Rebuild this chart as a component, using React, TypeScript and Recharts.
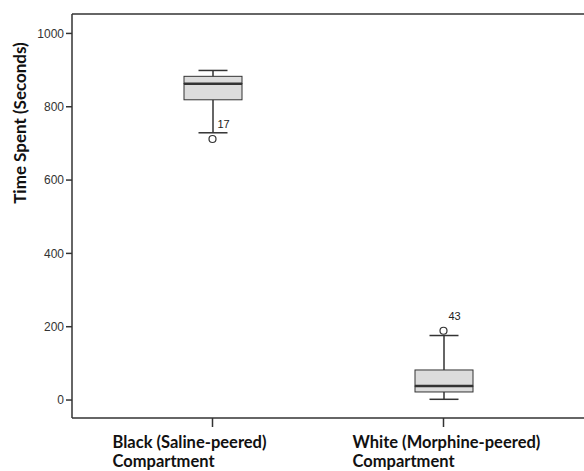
import {
  ComposedChart,
  Bar,
  Scatter,
  XAxis,
  YAxis,
  ReferenceLine,
  LabelList,
  Label,
} from 'recharts'

const categories = ['Black', 'White']
const tickLines = [
  ['Black (Saline-peered)', 'Compartment'],
  ['White (Morphine-peered)', 'Compartment'],
]
const lowWhiskers = [729, 2]
const q1s = [819, 22]
const medians = [863, 38]
const q3s = [883, 82]
const highWhiskers = [899, 176]
const outliers = [712, 189]
const outlierIds = ['17', '43']
const yTicks = [0, 200, 400, 600, 800, 1000]
const yMin = -49
const yMax = 1053

const data = categories.map((c, i) => ({
  name: c,
  base: lowWhiskers[i],
  lowWhisk: q1s[i] - lowWhiskers[i],
  lowBox: medians[i] - q1s[i],
  highBox: q3s[i] - medians[i],
  highWhisk: highWhiskers[i] - q3s[i],
  outlier: outliers[i],
  outlierId: outlierIds[i],
}))

const INK = '#333'
const FILL = '#dcdcdc'
const CAP = 29

function LowWhisker(props: any) {
  const { x, y, width, height } = props
  const cx = x + width / 2
  return (
    <g>
      <line x1={cx} x2={cx} y1={y} y2={y + height} stroke={INK} strokeWidth={1.5} />
      <line x1={cx - CAP / 2} x2={cx + CAP / 2} y1={y + height} y2={y + height} stroke={INK} strokeWidth={1.5} />
    </g>
  )
}

function HighWhisker(props: any) {
  const { x, y, width, height } = props
  const cx = x + width / 2
  return (
    <g>
      <line x1={cx} x2={cx} y1={y} y2={y + height} stroke={INK} strokeWidth={1.5} />
      <line x1={cx - CAP / 2} x2={cx + CAP / 2} y1={y} y2={y} stroke={INK} strokeWidth={1.5} />
    </g>
  )
}

function LowBox(props: any) {
  const { x, y, width, height } = props
  return <rect x={x} y={y} width={width} height={height} fill={FILL} stroke={INK} strokeWidth={1} />
}

function HighBox(props: any) {
  const { x, y, width, height } = props
  return (
    <g>
      <rect x={x} y={y} width={width} height={height} fill={FILL} stroke={INK} strokeWidth={1} />
      <line x1={x} x2={x + width} y1={y + height} y2={y + height} stroke={INK} strokeWidth={2.5} />
    </g>
  )
}

function OutlierDot(props: any) {
  const { cx, cy } = props
  return <circle cx={cx} cy={cy} r={3.5} fill="#fff" stroke={INK} strokeWidth={1.2} />
}

function OutlierLabel(props: any) {
  const { x, y, width, value } = props
  const cx = x + (width || 0) / 2
  return (
    <text x={cx + 5} y={y - 6} fill="#222" fontSize={11} fontFamily="Liberation Sans, Arial, sans-serif">
      {value}
    </text>
  )
}

const tickOffsets = [-100, -91]

function CategoryTick(props: any) {
  const { x, y, index } = props
  const lines = tickLines[index] || []
  return (
    <text
      x={x + tickOffsets[index]}
      y={y}
      fill="#111"
      fontSize={16.5}
      fontWeight="bold"
      fontFamily="Lato, 'Open Sans', sans-serif"
      textAnchor="start"
    >
      {lines.map((l, i) => (
        <tspan key={i} x={x + tickOffsets[index]} dy={i === 0 ? 19 : 19}>
          {l}
        </tspan>
      ))}
    </text>
  )
}

function YTitle(props: any) {
  const { viewBox } = props
  const cx = 19
  const cy = viewBox.y + 109
  return (
    <text
      x={cx}
      y={cy}
      transform={`rotate(-90 ${cx} ${cy})`}
      textAnchor="middle"
      dominantBaseline="central"
      fill="#111"
      fontSize={17}
      fontWeight="bold"
      fontFamily="Lato, 'Open Sans', sans-serif"
    >
      Time Spent (Seconds)
    </text>
  )
}

export default function App() {
  return (
    <div style={{ position: 'absolute', left: 0, top: 0, width: 584, height: 471, background: '#fff' }}>
      <ComposedChart
        width={584}
        height={471}
        data={data}
        margin={{ top: 14, right: 0, bottom: 0, left: 0 }}
        barSize={58}
      >
        <XAxis
          dataKey="name"
          height={53}
          padding={{ left: 25, right: 25 }}
          axisLine={{ stroke: INK, strokeWidth: 1.5 }}
          tickLine={{ stroke: INK, strokeWidth: 1.5 }}
          tickSize={9}
          tick={<CategoryTick />}
          interval={0}
        />
        <YAxis
          width={72}
          domain={[yMin, yMax]}
          ticks={yTicks}
          allowDataOverflow
          axisLine={{ stroke: INK, strokeWidth: 1.5 }}
          tickLine={{ stroke: INK, strokeWidth: 1.5 }}
          tickSize={6}
          tickMargin={2}
          tick={{ fill: '#333', fontSize: 12, fontFamily: 'Liberation Sans, Arial, sans-serif' }}
        >
          <Label content={<YTitle />} />
        </YAxis>
        <ReferenceLine y={yMax} stroke={INK} strokeWidth={1.5} />
        <Bar dataKey="base" stackId="a" fill="transparent" isAnimationActive={false} shape={() => null} />
        <Bar dataKey="lowWhisk" stackId="a" isAnimationActive={false} shape={<LowWhisker />} />
        <Bar dataKey="lowBox" stackId="a" isAnimationActive={false} shape={<LowBox />} />
        <Bar dataKey="highBox" stackId="a" isAnimationActive={false} shape={<HighBox />} />
        <Bar dataKey="highWhisk" stackId="a" isAnimationActive={false} shape={<HighWhisker />} />
        <Scatter dataKey="outlier" isAnimationActive={false} shape={<OutlierDot />}>
          <LabelList dataKey="outlierId" content={<OutlierLabel />} />
        </Scatter>
      </ComposedChart>
    </div>
  )
}
